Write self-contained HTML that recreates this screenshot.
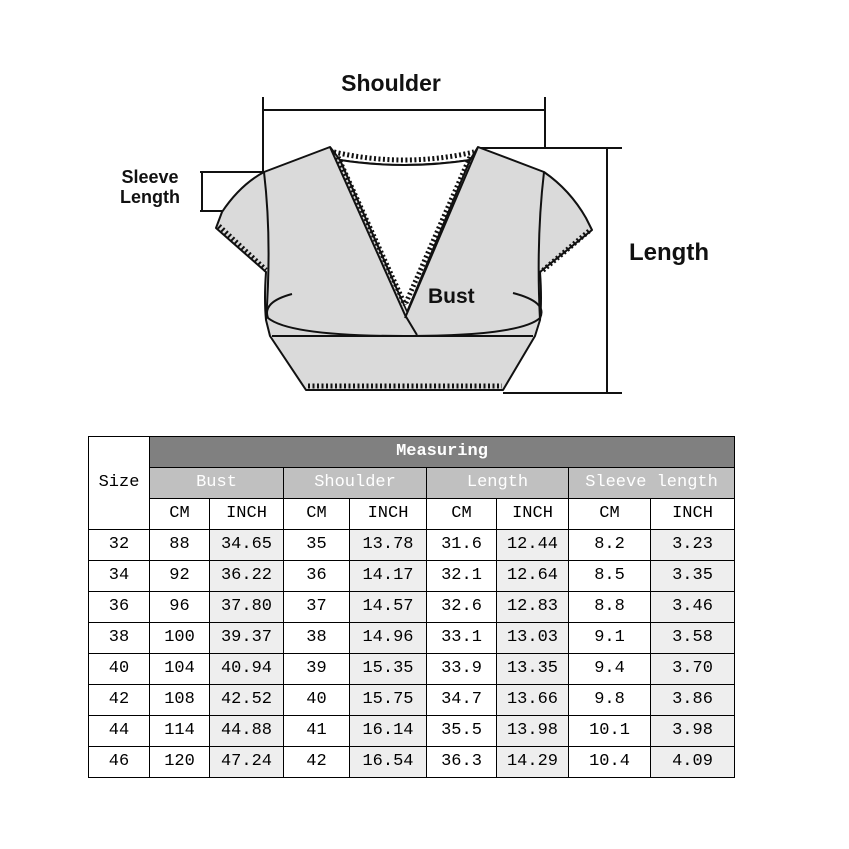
<!DOCTYPE html>
<html><head><meta charset="utf-8"><style>
body{margin:0;background:#fff;width:849px;height:849px;position:relative;overflow:hidden}
svg{position:absolute;left:0;top:0}
table{position:absolute;left:88px;top:436px;border-collapse:collapse;font-family:"Liberation Mono","Noto Serif CJK SC",monospace;font-size:17px;color:#000}
td{border:1px solid #000;text-align:center;padding:0;height:30px;line-height:30px}
.m{background:#808080;color:#fff;font-weight:bold}
.s{background:#c0c0c0;color:#fff}
.g{background:#eeeeee}
</style></head><body>
<svg width="849" height="430" viewBox="0 0 849 430">
<g stroke="#111" stroke-width="2" fill="none">
<line x1="263" y1="97" x2="263" y2="172"/><line x1="545" y1="97" x2="545" y2="148"/><line x1="263" y1="110" x2="545" y2="110"/>
<line x1="478" y1="148" x2="622" y2="148"/><line x1="607" y1="148" x2="607" y2="393"/><line x1="503" y1="393" x2="622" y2="393"/>
<line x1="200" y1="172" x2="264" y2="172"/><line x1="200" y1="211" x2="224" y2="211"/><line x1="202" y1="172" x2="202" y2="211"/>
</g>
<g stroke="#111" stroke-width="2" fill="#dadada" stroke-linejoin="round">
<path d="M330,147 L264,172 Q240,185 222,212 L216,228 L266,272 Q264,300 266,320 L270,336 L306,390 L503,390 L535,336 L540,320 Q542,300 540,272 L592,230 L586,218 Q570,190 544,172 L478,147 L470,160 Q404,170 340,160 Z"/>
<path d="M340,160 Q404,170 470,160 L407,312 Z" fill="#fff"/>
<path d="M330,147 L405,315 L417,335"/>
<path d="M478,147 L405,318"/>
<line x1="272" y1="336" x2="533" y2="336"/>
<path d="M292,294 Q262,302 268,318 Q290,336 404,336 Q520,336 540,318 Q548,302 513,293" fill="none"/>
<path d="M264,172 Q272,240 266,320" fill="none"/><path d="M544,172 Q536,240 540,320" fill="none"/>
</g>
<g stroke="#111" stroke-width="5" fill="none" stroke-dasharray="2 2.5">
<path d="M334,152 Q404,168 474,152"/>
<path d="M338,157 L405,305"/><path d="M470,157 L405,305"/>
<path d="M219,226 L266,270"/><path d="M589,231 L541,272"/>
<path d="M308,386 L502,386"/>
</g>
<g font-family="Liberation Sans,sans-serif" fill="#111">
<text x="391" y="91" font-size="23" text-anchor="middle" font-weight="bold">Shoulder</text>
<text x="150" y="183" font-size="18" text-anchor="middle" font-weight="bold">Sleeve</text>
<text x="150" y="203" font-size="18" text-anchor="middle" font-weight="bold">Length</text>
<text x="669" y="260" font-size="24" text-anchor="middle" font-weight="bold">Length</text>
<text x="428" y="303" font-size="21" font-weight="bold">Bust</text>
</g>
</svg>
<table>
<colgroup><col style="width:61px"><col style="width:60px"><col style="width:74px"><col style="width:66px"><col style="width:77px"><col style="width:70px"><col style="width:72px"><col style="width:82px"><col style="width:84px"></colgroup>
<tr><td rowspan="3">Size</td><td colspan="8" class="m">Measuring</td></tr>
<tr><td colspan="2" class="s">Bust</td><td colspan="2" class="s">Shoulder</td><td colspan="2" class="s">Length</td><td colspan="2" class="s">Sleeve length</td></tr>
<tr><td>CM</td><td>INCH</td><td>CM</td><td>INCH</td><td>CM</td><td>INCH</td><td>CM</td><td>INCH</td></tr>
<tr><td>32</td><td>88</td><td class="g">34.65</td><td>35</td><td class="g">13.78</td><td>31.6</td><td class="g">12.44</td><td>8.2</td><td class="g">3.23</td></tr>
<tr><td>34</td><td>92</td><td class="g">36.22</td><td>36</td><td class="g">14.17</td><td>32.1</td><td class="g">12.64</td><td>8.5</td><td class="g">3.35</td></tr>
<tr><td>36</td><td>96</td><td class="g">37.80</td><td>37</td><td class="g">14.57</td><td>32.6</td><td class="g">12.83</td><td>8.8</td><td class="g">3.46</td></tr>
<tr><td>38</td><td>100</td><td class="g">39.37</td><td>38</td><td class="g">14.96</td><td>33.1</td><td class="g">13.03</td><td>9.1</td><td class="g">3.58</td></tr>
<tr><td>40</td><td>104</td><td class="g">40.94</td><td>39</td><td class="g">15.35</td><td>33.9</td><td class="g">13.35</td><td>9.4</td><td class="g">3.70</td></tr>
<tr><td>42</td><td>108</td><td class="g">42.52</td><td>40</td><td class="g">15.75</td><td>34.7</td><td class="g">13.66</td><td>9.8</td><td class="g">3.86</td></tr>
<tr><td>44</td><td>114</td><td class="g">44.88</td><td>41</td><td class="g">16.14</td><td>35.5</td><td class="g">13.98</td><td>10.1</td><td class="g">3.98</td></tr>
<tr><td>46</td><td>120</td><td class="g">47.24</td><td>42</td><td class="g">16.54</td><td>36.3</td><td class="g">14.29</td><td>10.4</td><td class="g">4.09</td></tr>
</table>
</body></html>
